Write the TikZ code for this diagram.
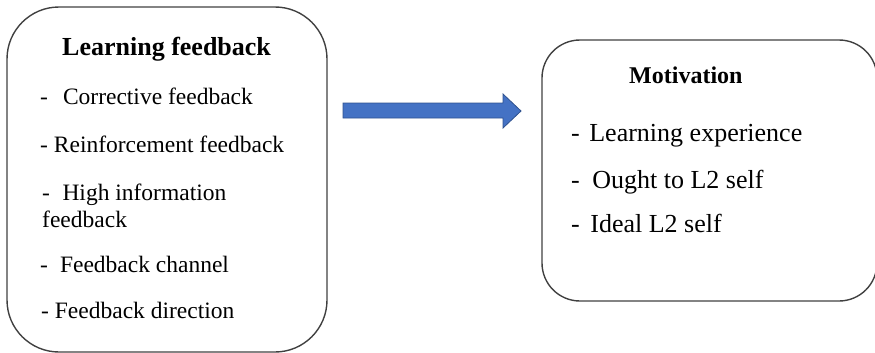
\documentclass[tikz,border=0pt]{standalone}
\usepackage{fontspec}
\setmainfont{Liberation Serif}
\begin{document}
\begin{tikzpicture}[x=1pt,y=-1pt,
  box/.style={draw=black!75, line width=1.4pt, inner sep=0pt},
  lbody/.style={anchor=base west, inner sep=0pt, font=\fontsize{23.5}{28}\selectfont},
  rbody/.style={anchor=base west, inner sep=0pt, font=\fontsize{26}{31}\selectfont},
  lhead/.style={anchor=base west, inner sep=0pt, font=\fontsize{26}{31}\selectfont\bfseries},
  rhead/.style={anchor=base west, inner sep=0pt, font=\fontsize{24}{29}\selectfont\bfseries},
  blockarrow/.style={fill=arrowblue, draw=arrowedge, line width=0.8pt, line join=miter}]
\definecolor{arrowblue}{HTML}{4472C4}
\definecolor{arrowedge}{HTML}{2F528F}
\useasboundingbox (0,0) rectangle (875,353);
% boxes
\node[box, rounded corners=52pt, minimum width=320pt, minimum height=345pt] (lf) at (167,179.5) {};
\node[box, rounded corners=38pt, minimum width=335pt, minimum height=261pt] (mot) at (709.5,170.5) {};
% left texts
\node[lhead] (lft) at (62,56) {Learning feedback};
\node[lbody] (l1) at (40,104) {-\hspace{15pt}Corrective feedback};
\node[lbody] (l2) at (40,152) {- Reinforcement feedback};
\node[lbody] (l3) at (42,200) {-\hspace{12.5pt}High information};
\node[lbody] (l3b) at (42,227) {feedback};
\node[lbody] (l4) at (40,272) {-\hspace{12pt}Feedback channel};
\node[lbody] (l5) at (41,318) {- Feedback direction};
% right texts
\node[rhead] (mott) at (629,83) {Motivation};
\node[rbody] (r1) at (571,141) {-\hspace{9.5pt}Learning experience};
\node[rbody] (r2) at (571,188) {-\hspace{12.5pt}Ought to L2 self};
\node[rbody] (r3) at (571,232) {-\hspace{10.5pt}Ideal L2 self};
% block arrow
\draw[blockarrow] (343,103) -- (503,103) -- (503,94) -- (521,111) -- (503,128) -- (503,118) -- (343,118) -- cycle;
\end{tikzpicture}
\end{document}
